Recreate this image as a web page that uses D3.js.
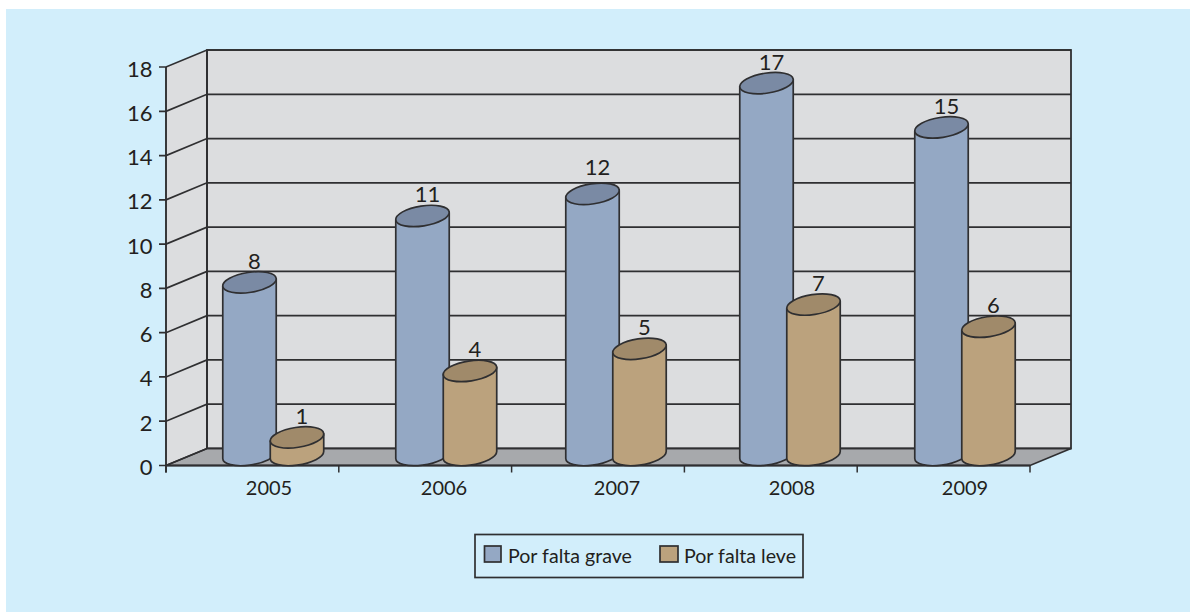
<!DOCTYPE html>
<html><head><meta charset="utf-8">
<script src="https://cdn.jsdelivr.net/npm/d3@7/dist/d3.min.js"></script>
<style>html,body{margin:0;padding:0;background:#fff}svg{display:block}text{font-family:Lato,"Noto Sans",sans-serif;fill:#231f20}</style>
</head><body><svg id="c" width="1190" height="612"></svg>
<script>
const years = ["2005","2006","2007","2008","2009"];
const porFaltaGrave = [8,11,12,17,15];
const porFaltaLeve = [1,4,5,7,6];
const yTicks = [0,2,4,6,8,10,12,14,16,18];
const seriesNames = ["Por falta grave","Por falta leve"];

(function(){
const svg = d3.select("#c");
const ink = "#2f2f31";
const dx = 41, dy = -17;
const y = d3.scaleLinear().domain([0,18]).range([465.5,67]);
const xEdge = d3.scaleBand().domain(years).range([166,1030]);
const xGrave = d3.scaleOrdinal().domain(years).range([249.5,422.5,592.5,766.5,941.5]);
const xLeve = d3.scaleOrdinal().domain(years).range([297,470,639.5,813.5,988.5]);
const xLabel = d3.scaleOrdinal().domain(years).range([269,444,617,792,965]);

svg.append("rect").attr("x",6).attr("y",9).attr("width",1184).attr("height",603).attr("fill","#d2eefb");

const x0 = 166, x1 = 1030;
const yTop = y(18), base = y(0);
// walls
svg.append("polygon").attr("points",[[x0,yTop],[x0+dx,yTop+dy],[x0+dx,base+dy],[x0,base]].join(" ")).attr("fill","#dcdddf");
svg.append("rect").attr("x",x0+dx).attr("y",yTop+dy).attr("width",x1-x0).attr("height",base-yTop).attr("fill","#dcdddf").attr("stroke",ink).attr("stroke-width",1.8);
// floor
svg.append("polygon").attr("points",[[x0,base],[x0+dx,base+dy],[x1+dx,base+dy],[x1,base]].join(" ")).attr("fill","#a7a9ac").attr("stroke",ink).attr("stroke-width",1.7);
// grid
yTicks.forEach(t=>{
  const g = y(t);
  svg.append("polyline").attr("points",[[x0-7,g],[x0,g],[x0+dx,g+dy],[x1+dx,g+dy]].join(" ")).attr("fill","none").attr("stroke",ink).attr("stroke-width",1.7);
  svg.append("text").attr("x",152.5).attr("y",g+9.5).attr("text-anchor","end").attr("font-size",22).text(t);
});
svg.append("line").attr("x1",x0).attr("x2",x0).attr("y1",yTop).attr("y2",base+7).attr("stroke",ink).attr("stroke-width",1.9);
svg.append("line").attr("x1",x0+dx).attr("x2",x0+dx).attr("y1",yTop+dy).attr("y2",base+dy).attr("stroke",ink).attr("stroke-width",1.9);
svg.append("line").attr("x1",x0).attr("x2",x1).attr("y1",base).attr("y2",base).attr("stroke",ink).attr("stroke-width",1.9);
// x ticks
[...years.map(c=>xEdge(c)), x1].forEach(t=>{
  svg.append("line").attr("x1",t).attr("x2",t).attr("y1",base).attr("y2",base+7).attr("stroke",ink).attr("stroke-width",1.5);
});
years.forEach(c=>{
  svg.append("text").attr("x",xLabel(c)).attr("y",495).attr("text-anchor","middle").attr("font-size",20).text(c);
});

// cylinders
const a = 27, b = 10, rot = -8.7;
const th = rot*Math.PI/180;
const xExt = Math.sqrt(a*a*Math.cos(th)**2 + b*b*Math.sin(th)**2);
const yAt = (a*a-b*b)*Math.sin(th)*Math.cos(th)/xExt;
function cylinder(cx, v, side, cap, lift){
  const tc = y(v)-6, bc = y(0)-10.5;
  const g = svg.append("g");
  const body = `M${cx-xExt},${tc-yAt} L${cx-xExt},${bc-yAt} A${a},${b} ${rot} 0 0 ${cx+xExt},${bc+yAt} L${cx+xExt},${tc+yAt} Z`;
  g.append("path").attr("d",body).attr("fill",side).attr("stroke",ink).attr("stroke-width",1.7).attr("stroke-linejoin","round");
  g.append("ellipse").attr("cx",cx).attr("cy",tc).attr("rx",a).attr("ry",b)
    .attr("transform",`rotate(${rot} ${cx} ${tc})`).attr("fill",cap).attr("stroke",ink).attr("stroke-width",1.7);
  svg.append("text").attr("x",cx+5).attr("y",y(v)-19.5-lift).attr("text-anchor","middle").attr("font-size",22).text(v);
}
years.forEach((c,i)=>{
  cylinder(xGrave(c), porFaltaGrave[i], "#94a8c4", "#7a8aa4", c==="2007"?5:0);
  cylinder(xLeve(c), porFaltaLeve[i], "#bba27d", "#a08a6a", 0);
});

// legend
svg.append("rect").attr("x",475).attr("y",534.5).attr("width",328).attr("height",43).attr("fill","none").attr("stroke",ink).attr("stroke-width",1.7);
const sw = [[484.5,"#94a8c4",508],[660,"#bba27d",684]];
seriesNames.forEach((n,i)=>{
  svg.append("rect").attr("x",sw[i][0]).attr("y",546).attr("width",i?18:16.5).attr("height",16).attr("fill",sw[i][1]).attr("stroke",ink).attr("stroke-width",1.7);
  svg.append("text").attr("x",sw[i][2]).attr("y",562.5).attr("font-size",19.6).text(n);
});
})();
</script></body></html>
